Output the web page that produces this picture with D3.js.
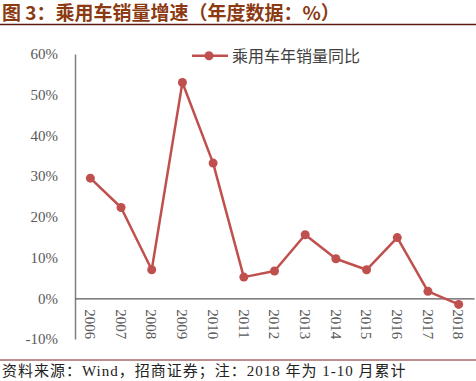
<!DOCTYPE html>
<html><head><meta charset="utf-8">
<script src="https://cdn.jsdelivr.net/npm/d3@7"></script>
<style>
html,body{margin:0;padding:0;background:#fff;}
svg{display:block;}
</style></head>
<body>
<script>
const years = ["2006","2007","2008","2009","2010","2011","2012","2013","2014","2015","2016","2017","2018"];
const growth = [29.5, 22.3, 7.0, 53.0, 33.2, 5.2, 6.7, 15.6, 9.7, 7.0, 14.9, 1.7, -1.5];
const yTicks = [-10, 0, 10, 20, 30, 40, 50, 60];
const titleText = "图 3：乘用车销量增速（年度数据：%）";
const legendText = "乘用车年销量同比";
const sourceText = "资料来源：Wind，招商证券；注：2018 年为 1-10 月累计";

const W = 476, H = 381;
const svg = d3.select("body").append("svg").attr("width", W).attr("height", H);

// title
svg.append("text").attr("x", 2).attr("y", 20)
  .attr("font-family", "'Noto Sans CJK SC', sans-serif").attr("font-weight", "bold")
  .attr("font-size", 19).attr("fill", "#8B3A12").text(titleText);
svg.append("line").attr("x1", 0).attr("x2", W).attr("y1", 24.5).attr("y2", 24.5)
  .attr("stroke", "#5C1A0E").attr("stroke-width", 1.5);

const x = d3.scaleBand().domain(years).range([75, 474]);
const y = d3.scaleLinear().domain([-10, 60]).range([339, 54]);

// y axis
const yAxis = d3.axisLeft(y).tickValues(yTicks).tickSize(0).tickPadding(17)
  .tickFormat(d => d + "%");
const gy = svg.append("g").attr("transform", "translate(75,0)").call(yAxis);
gy.select(".domain").attr("stroke", "#808080").attr("stroke-width", 1.5);
gy.selectAll("text").attr("font-family", "'Liberation Serif', serif").attr("font-size", 15)
  .attr("fill", "#595959");

// x axis at zero
const xAxis = d3.axisBottom(x).tickSize(0).tickPadding(0);
const gx = svg.append("g").attr("transform", `translate(0,${y(0)})`).call(xAxis);
gx.select(".domain").attr("stroke", "#595959").attr("stroke-width", 1.2);
gx.selectAll("text")
  .attr("font-family", "'Liberation Serif', serif").attr("font-size", 15).attr("fill", "#595959")
  .attr("transform", "rotate(90)").attr("text-anchor", "start")
  .attr("x", 11).attr("y", 0).attr("dy", "0.35em");

// line
const color = "#C0504D";
const line = d3.line().x((d, i) => x(years[i]) + x.bandwidth() / 2).y(d => y(d));
svg.append("path").datum(growth).attr("d", line).attr("fill", "none")
  .attr("stroke", color).attr("stroke-width", 2.5).attr("stroke-linejoin", "round");
svg.selectAll("circle.pt").data(growth).join("circle").attr("class", "pt")
  .attr("cx", (d, i) => x(years[i]) + x.bandwidth() / 2).attr("cy", d => y(d))
  .attr("r", 4.5).attr("fill", color);

// legend
const lg = svg.append("g");
lg.append("line").attr("x1", 192).attr("x2", 228).attr("y1", 55.7).attr("y2", 55.7)
  .attr("stroke", color).attr("stroke-width", 2.5);
lg.append("circle").attr("cx", 209).attr("cy", 55.7).attr("r", 4.5).attr("fill", color);
lg.append("text").attr("x", 232).attr("y", 61.5)
  .attr("font-family", "'Noto Sans CJK SC', sans-serif").attr("font-size", 16)
  .attr("fill", "#404040").text(legendText);

// footer
svg.append("line").attr("x1", 0).attr("x2", W).attr("y1", 360).attr("y2", 360)
  .attr("stroke", "#7A1F1F").attr("stroke-width", 1);
svg.append("text").attr("x", 2).attr("y", 375.5)
  .attr("font-family", "'Liberation Serif','Noto Sans CJK SC', serif").attr("font-size", 15)
  .attr("letter-spacing", 1).attr("fill", "#222").text(sourceText);
</script>
</body></html>
